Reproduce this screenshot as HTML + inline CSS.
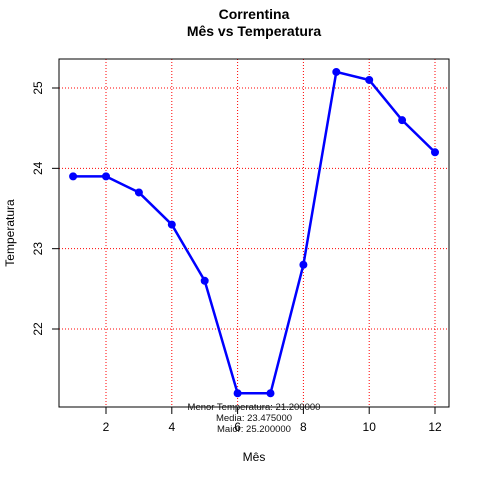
<!DOCTYPE html>
<html><head><meta charset="utf-8"><style>body{margin:0;background:#fff}svg{display:block;font-family:"Liberation Sans",sans-serif}</style></head>
<body>
<svg id="c" width="480" height="480">
<rect width="480" height="480" fill="#fff"/>
<text x="254" y="19" text-anchor="middle" font-size="14" font-weight="bold">Correntina</text>
<text x="254" y="36" text-anchor="middle" font-size="14" font-weight="bold">Mês vs Temperatura</text>
<text x="254" y="461" text-anchor="middle" font-size="12">Mês</text>
<text transform="translate(14,233) rotate(-90)" text-anchor="middle" font-size="12">Temperatura</text>
<g id="grid"></g><g id="axes"></g><g id="series"></g>
<rect x="59" y="59" width="390" height="348" fill="none" stroke="#000"/>
<g font-size="9.5" text-anchor="middle" fill="#111">
<text x="254" y="410">Menor Temperatura: 21.200000</text>
<text x="254" y="421">Media: 23.475000</text>
<text x="254" y="432">Maior: 25.200000</text>
</g>
</svg>
<script>
const months=[1,2,3,4,5,6,7,8,9,10,11,12];
const temps=[23.9,23.9,23.7,23.3,22.6,21.2,21.2,22.8,25.2,25.1,24.6,24.2];
const xTicks=[2,4,6,8,10,12];
const yTicks=[22,23,24,25];
const NS="http://www.w3.org/2000/svg";
const X=v=>106+(v-2)*32.9;
const Y=v=>329-(v-22)*80.33;
function mk(p,t,a){const e=document.createElementNS(NS,t);for(const k in a)e.setAttribute(k,a[k]);document.getElementById(p).appendChild(e);return e;}
xTicks.forEach(t=>{
 let g=mk('grid','line',{x1:X(t),x2:X(t),y1:59,y2:407,stroke:'#f00','stroke-dasharray':'1,2','stroke-width':1});
 
 
 let k=mk('axes','line',{x1:X(t),x2:X(t),y1:407,y2:414,stroke:'#000'});
 
 
 let l=mk('axes','text',{x:X(t),y:431,'text-anchor':'middle','font-size':12});l.textContent=t;
 
 
});
yTicks.forEach(t=>{
 let g=mk('grid','line',{x1:59,x2:449,y1:Y(t),y2:Y(t),stroke:'#f00','stroke-dasharray':'1,2','stroke-width':1});
 
 
 let k=mk('axes','line',{x1:52,x2:59,y1:Y(t),y2:Y(t),stroke:'#000'});
 
 
 let l=mk('axes','text',{transform:`translate(42,${Y(t)}) rotate(-90)`,'text-anchor':'middle','font-size':12});l.textContent=t;
 
 
});
let pl=mk('series','polyline',{points:months.map((m,i)=>X(m)+','+Y(temps[i])).join(' '),fill:'none',stroke:'#00f','stroke-width':2.5});


months.forEach((m,i)=>{
 let c=mk('series','circle',{cx:X(m),cy:Y(temps[i]),r:3.5,fill:'#00f',stroke:'#00f'});
 
 
});
</script>
</body></html>
